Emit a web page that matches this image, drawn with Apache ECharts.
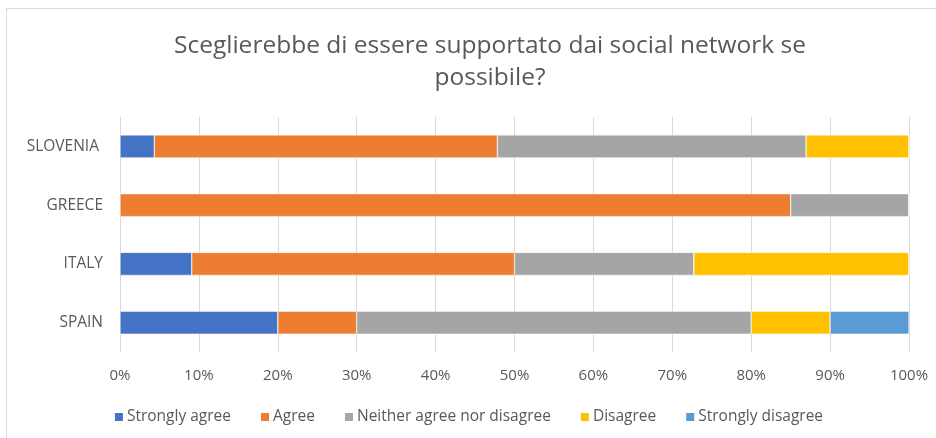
<!DOCTYPE html>
<html>
<head>
<meta charset="utf-8">
<script src="https://cdn.jsdelivr.net/npm/echarts@6/dist/echarts.min.js"></script>
<style>
  html, body { margin: 0; padding: 0; background: #fff; }
  #frame {
    position: absolute; left: 6px; top: 8px; width: 940px; height: 440px;
    border: 1px solid #d9d9d9; box-sizing: border-box;
  }
  #chart { position: absolute; left: 0; top: 0; width: 936px; height: 438px; }
</style>
</head>
<body>
<div id="frame"></div>
<div id="chart"></div>
<script>
const countries = ['SPAIN', 'ITALY', 'GREECE', 'SLOVENIA ']
const stronglyAgree = [20, 9.09, 0, 4.35]
const agree = [10, 40.91, 85, 43.48]
const neutral = [50, 22.73, 15, 39.13]
const disagree = [10, 27.27, 0, 13.04]
const stronglyDisagree = [10, 0, 0, 0]

const seriesNames = ['Strongly agree', 'Agree', 'Neither agree nor disagree', 'Disagree', 'Strongly disagree']
const seriesData = [stronglyAgree, agree, neutral, disagree, stronglyDisagree]
const colors = ['#4472c4', '#ed7d31', '#a5a5a5', '#ffc000', '#5b9bd5']

const chart = echarts.init(document.getElementById('chart'))
chart.setOption({
  color: colors,
  title: {
    text: 'Sceglierebbe di essere supportato dai social network se\npossibile?',
    left: 485,
    textAlign: 'center',
    top: 25,
    textStyle: {
      fontFamily: 'Open Sans',
      fontWeight: 'normal',
      fontSize: 24.5,
      lineHeight: 32,
      color: '#595959'
    }
  },
  legend: {
    bottom: 8,
    left: 'center',
    itemWidth: 10,
    itemHeight: 10,
    itemGap: 28,
    icon: 'rect',
    textStyle: { fontFamily: 'Open Sans', fontSize: 15.5, color: '#595959', padding: [0, 0, 0, -2] },
    data: seriesNames
  },
  grid: { left: 120, right: 27, top: 117, bottom: 86 },
  xAxis: {
    type: 'value',
    min: 0,
    max: 100,
    interval: 10,
    axisLabel: {
      formatter: '{value}%',
      fontFamily: 'Open Sans',
      fontSize: 15,
      color: '#595959',
      margin: 16
    },
    axisLine: { show: false },
    axisTick: { show: false },
    splitLine: { lineStyle: { color: '#d9d9d9', width: 1 } }
  },
  yAxis: {
    type: 'category',
    data: countries,
    axisLine: { show: false },
    axisTick: { show: false },
    axisLabel: {
      fontFamily: 'Open Sans',
      fontSize: 15.5,
      color: '#595959',
      margin: 17
    }
  },
  series: seriesData.map((data, i) => ({
    name: seriesNames[i],
    type: 'bar',
    stack: 'total',
    barWidth: 23,
    data,
    itemStyle: { borderColor: '#fff', borderWidth: 0.5 }
  }))
})
</script>
</body>
</html>
